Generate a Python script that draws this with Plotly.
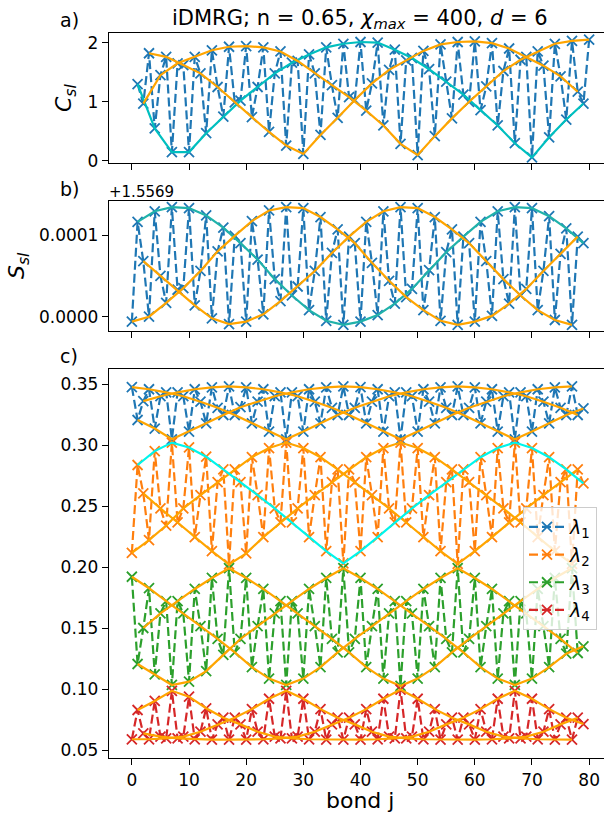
import plotly.graph_objects as go

# ---------------- data ----------------
# (a) C_sl on bonds 1..80, split by bond index mod 3
CSL_MOD1 = [1.30, 0.55, 0.15, 0.15, 0.47, 0.75, 1.02, 1.25, 1.48, 1.66, 1.80, 1.92, 1.98, 2.01,
            2.00, 1.88, 1.74, 1.55, 1.34, 1.12, 0.86, 0.60, 0.30, 0.06, 0.40, 0.70, 0.97]   # bonds 1,4,...,79
CSL_MOD2 = [0.97, 1.45, 1.65, 1.76, 1.87, 1.93, 1.94, 1.92, 1.85, 1.69, 1.48, 1.28, 1.08, 0.85,
            0.60, 0.29, 0.10, 0.42, 0.72, 1.00, 1.26, 1.52, 1.71, 1.85, 1.98, 2.03, 2.05]   # bonds 2,5,...,80
CSL_MOD0 = [1.82, 1.76, 1.62, 1.48, 1.25, 0.99, 0.74, 0.49, 0.26, 0.12, 0.44, 0.73, 1.03,
            1.31, 1.54, 1.70, 1.86, 1.97, 2.01, 2.02, 1.99, 1.90, 1.76, 1.61, 1.43, 1.17]   # bonds 3,6,...,78

# (b) S_sl - 1.5569 in units of 1e-4, bonds 0..79
SSL_OFFSET = "+1.5569"
SSL_MOD0 = [-0.06, 0.00, 0.17, 0.35, 0.56, 0.80, 0.99, 1.17, 1.30, 1.34, 1.33, 1.22, 1.07, 0.90,
            0.66, 0.44, 0.24, 0.08, -0.05, -0.10, -0.06, 0.01, 0.16, 0.34, 0.56, 0.77, 0.98]
SSL_MOD1 = [1.16, 1.29, 1.34, 1.33, 1.24, 1.09, 0.90, 0.70, 0.46, 0.26, 0.08, -0.05, -0.10, -0.06,
            0.02, 0.16, 0.34, 0.57, 0.79, 0.98, 1.16, 1.29, 1.34, 1.33, 1.23, 1.08, 0.90]
SSL_MOD2 = [0.68, 0.50, 0.33, 0.14, -0.02, -0.09, -0.06, 0.03, 0.19, 0.37, 0.56, 0.78, 0.98,
            1.16, 1.29, 1.34, 1.33, 1.22, 1.07, 0.90, 0.68, 0.46, 0.26, 0.08, -0.04, -0.10]

# (c) entanglement spectrum lambda_1..lambda_4, bonds 0..79
LAM1_MOD0 = [0.3475, 0.3457, 0.3432, 0.3400, 0.3355, 0.3305, 0.3246, 0.3178, 0.3110, 0.3047,
             0.3110, 0.3178, 0.3246, 0.3305, 0.3355, 0.3400, 0.3432, 0.3457, 0.3472, 0.3480,
             0.3472, 0.3457, 0.3432, 0.3400, 0.3355, 0.3305, 0.3246]
LAM1_MOD1 = [0.3205, 0.3135, 0.3047, 0.3110, 0.3178, 0.3246, 0.3310, 0.3355, 0.3400, 0.3432,
             0.3457, 0.3472, 0.3480, 0.3474, 0.3457, 0.3432, 0.3400, 0.3355, 0.3305, 0.3246,
             0.3178, 0.3110, 0.3047, 0.3110, 0.3178, 0.3246, 0.3300]
LAM1_MOD2 = [0.3360, 0.3400, 0.3432, 0.3457, 0.3472, 0.3480, 0.3472, 0.3457, 0.3432, 0.3400,
             0.3355, 0.3305, 0.3246, 0.3178, 0.3110, 0.3047, 0.3110, 0.3178, 0.3246, 0.3305,
             0.3355, 0.3400, 0.3432, 0.3457, 0.3472, 0.3480]

LAM2_MOD0 = [0.2115, 0.2220, 0.2340, 0.2480, 0.2590, 0.2695, 0.2800, 0.2900, 0.2975, 0.3020,
             0.2975, 0.2900, 0.2800, 0.2695, 0.2590, 0.2480, 0.2365, 0.2245, 0.2130, 0.2025,
             0.2130, 0.2245, 0.2365, 0.2480, 0.2590, 0.2695, 0.2800]
LAM2_MOD1 = [0.2836, 0.2950, 0.3020, 0.2980, 0.2904, 0.2800, 0.2695, 0.2590, 0.2480, 0.2365,
             0.2245, 0.2130, 0.2030, 0.2130, 0.2245, 0.2365, 0.2480, 0.2590, 0.2695, 0.2800,
             0.2900, 0.2975, 0.3020, 0.2975, 0.2900, 0.2800, 0.2685]
LAM2_MOD2 = [0.2604, 0.2480, 0.2365, 0.2245, 0.2130, 0.2022, 0.2112, 0.2245, 0.2365, 0.2480,
             0.2590, 0.2695, 0.2800, 0.2900, 0.2975, 0.3020, 0.2975, 0.2900, 0.2800, 0.2695,
             0.2590, 0.2480, 0.2365, 0.2245, 0.2130, 0.2025]

LAM3_MOD0 = [0.1920, 0.1826, 0.1720, 0.1620, 0.1515, 0.1410, 0.1300, 0.1180, 0.1085, 0.1033,
             0.1085, 0.1180, 0.1300, 0.1410, 0.1515, 0.1620, 0.1720, 0.1820, 0.1910, 0.1990,
             0.1910, 0.1820, 0.1720, 0.1620, 0.1515, 0.1410, 0.1295]
LAM3_MOD1 = [0.1205, 0.1120, 0.1033, 0.1060, 0.1147, 0.1280, 0.1410, 0.1515, 0.1620, 0.1720,
             0.1820, 0.1910, 0.1990, 0.1910, 0.1820, 0.1720, 0.1620, 0.1515, 0.1410, 0.1300,
             0.1180, 0.1085, 0.1033, 0.1085, 0.1180, 0.1290, 0.1350]
LAM3_MOD2 = [0.1500, 0.1620, 0.1720, 0.1820, 0.1910, 0.1990, 0.1910, 0.1820, 0.1720, 0.1620,
             0.1515, 0.1410, 0.1300, 0.1180, 0.1085, 0.1025, 0.1085, 0.1180, 0.1300, 0.1410,
             0.1515, 0.1620, 0.1720, 0.1820, 0.1910, 0.1990]

LAM4_MOD0 = [0.0588, 0.0588, 0.0595, 0.0610, 0.0650, 0.0710, 0.0765, 0.0835, 0.0920, 0.0985,
             0.0920, 0.0835, 0.0765, 0.0710, 0.0650, 0.0610, 0.0595, 0.0588, 0.0585, 0.0585,
             0.0585, 0.0588, 0.0595, 0.0610, 0.0650, 0.0710, 0.0765]
LAM4_MOD1 = [0.0828, 0.0902, 0.0985, 0.0937, 0.0842, 0.0765, 0.0710, 0.0650, 0.0610, 0.0595,
             0.0588, 0.0585, 0.0585, 0.0585, 0.0588, 0.0595, 0.0610, 0.0650, 0.0710, 0.0765,
             0.0835, 0.0920, 0.0985, 0.0920, 0.0835, 0.0765, 0.0713]
LAM4_MOD2 = [0.0636, 0.0610, 0.0595, 0.0588, 0.0585, 0.0585, 0.0585, 0.0588, 0.0595, 0.0610,
             0.0650, 0.0710, 0.0765, 0.0835, 0.0920, 0.0995, 0.0920, 0.0835, 0.0765, 0.0710,
             0.0650, 0.0610, 0.0595, 0.0588, 0.0585, 0.0585]

C_TICKS = [0, 1, 2]
S_TICKS = [0, 1]
S_TICKTEXT = ["0.0000", "0.0001"]
LAM_TICKS = [0.05, 0.10, 0.15, 0.20, 0.25, 0.30, 0.35]
BOND_TICKS = [0, 10, 20, 30, 40, 50, 60, 70, 80]

# ---------------- helpers ----------------
def bonds(first, last, r):
    return [j for j in range(first, last + 1) if j % 3 == r]


def merge(first, last, parts):
    xs, ys = [], []
    starts = {r: bonds(first, last, r)[0] for r in parts}
    for j in range(first, last + 1):
        r = j % 3
        xs.append(j)
        ys.append(parts[r][(j - starts[r]) // 3])
    return xs, ys


W, H = 604, 815
FONT = "DejaVu Sans"
ORANGE = "#FFA500"
DASH = "9px,4px"
TAB = {1: "#1f77b4", 2: "#ff7f0e", 3: "#2ca02c", 4: "#d62728"}

fig = go.Figure()


def dashed(xs, ys, color, xa, ya, name=None, legend=False):
    fig.add_trace(go.Scatter(
        x=xs, y=ys, mode="lines+markers", xaxis=xa, yaxis=ya,
        line=dict(color=color, width=2.2, dash=DASH),
        marker=dict(symbol="x-thin", size=10, line=dict(width=1.8, color=color)),
        name=name, showlegend=legend))


def envelope(xs, ys, color, xa, ya):
    fig.add_trace(go.Scatter(
        x=xs, y=ys, mode="lines", xaxis=xa, yaxis=ya,
        line=dict(color=color, width=2.2), showlegend=False, hoverinfo="skip"))


# (a)
xa, ya = merge(1, 80, {1: CSL_MOD1, 2: CSL_MOD2, 0: CSL_MOD0})
dashed(xa, ya, TAB[1], "x", "y")
envelope(bonds(1, 80, 1), CSL_MOD1, "#00BFBF", "x", "y")
envelope(bonds(1, 80, 2), CSL_MOD2, ORANGE, "x", "y")
envelope(bonds(1, 80, 0), CSL_MOD0, ORANGE, "x", "y")

# (b)
xb, yb = merge(0, 79, {0: SSL_MOD0, 1: SSL_MOD1, 2: SSL_MOD2})
dashed(xb, yb, TAB[1], "x2", "y2")
envelope(bonds(0, 79, 1), SSL_MOD1, "#20B2AA", "x2", "y2")
envelope(bonds(0, 79, 0), SSL_MOD0, ORANGE, "x2", "y2")
envelope(bonds(0, 79, 2), SSL_MOD2, ORANGE, "x2", "y2")

# (c)
LAMS = {
    1: (LAM1_MOD0, LAM1_MOD1, LAM1_MOD2),
    2: (LAM2_MOD0, LAM2_MOD1, LAM2_MOD2),
    3: (LAM3_MOD0, LAM3_MOD1, LAM3_MOD2),
    4: (LAM4_MOD0, LAM4_MOD1, LAM4_MOD2),
}
for k, (m0, m1, m2) in LAMS.items():
    xs, ys = merge(0, 79, {0: m0, 1: m1, 2: m2})
    dashed(xs, ys, TAB[k], "x3", "y3", name=f"<i>λ</i><sub>{k}</sub>", legend=True)
    envelope(bonds(0, 79, 0), m0, ORANGE, "x3", "y3")
    envelope(bonds(0, 79, 1), m1, "#00F5EC" if k == 2 else ORANGE, "x3", "y3")
    envelope(bonds(0, 79, 2), m2, ORANGE, "x3", "y3")


def py(px):
    return 1 - px / H


X_DOM = [109 / W, 1.0]
X_RANGE = [-4.0, -4.0 + (W - 109) / 5.716]

axis_common = dict(showgrid=False, zeroline=False, showline=True, linecolor="black",
                   linewidth=1.3, ticks="outside", ticklen=6, tickwidth=1.3,
                   tickcolor="black", tickfont=dict(family=FONT, size=17, color="black"))

layout = dict(
    width=W, height=H, plot_bgcolor="white", paper_bgcolor="white",
    margin=dict(l=0, r=0, t=0, b=0, autoexpand=False),
    font=dict(family=FONT, color="black"),
    xaxis=dict(domain=X_DOM, range=X_RANGE, anchor="y", tickvals=BOND_TICKS,
               showticklabels=False, mirror=True, **axis_common),
    xaxis2=dict(domain=X_DOM, range=X_RANGE, anchor="y2", tickvals=BOND_TICKS,
                showticklabels=False, mirror=True, **axis_common),
    xaxis3=dict(domain=X_DOM, range=X_RANGE, anchor="y3", tickvals=BOND_TICKS,
                mirror=True, **axis_common),
    yaxis=dict(domain=[py(163.3), py(33.3)], range=[-0.039, 2.157], anchor="x",
               tickvals=C_TICKS, **axis_common),
    yaxis2=dict(domain=[py(330.7), py(201)], range=[-0.171, 1.416], anchor="x2",
                tickvals=S_TICKS, ticktext=S_TICKTEXT, **axis_common),
    yaxis3=dict(domain=[py(758.3), py(369)], range=[0.0432, 0.3623], anchor="x3",
                tickvals=LAM_TICKS, tickformat=".2f", **axis_common),
    legend=dict(x=523 / W, y=py(507), xanchor="left", yanchor="top",
                bgcolor="rgba(255,255,255,0.8)", bordercolor="#cccccc", borderwidth=1,
                font=dict(family=FONT, size=19, color="black"), tracegroupgap=0,
                itemwidth=36),
)
fig.update_layout(**layout)

ann = [
    dict(text="iDMRG; n = 0.65, <i>χ</i><sub><i>max</i></sub> = 400, <i>d</i> = 6",
         x=360 / W, y=py(19), size=21),
    dict(text="a)", x=69 / W, y=py(20), size=19),
    dict(text="b)", x=69 / W, y=py(189), size=19),
    dict(text="c)", x=69 / W, y=py(356), size=19),
    dict(text=SSL_OFFSET, x=141 / W, y=py(192), size=15),
    dict(text="bond j", x=360 / W, y=py(800), size=22),
]
for a in ann:
    fig.add_annotation(text=a["text"], x=a["x"], y=a["y"], xref="paper", yref="paper",
                       xanchor="center", yanchor="middle", showarrow=False,
                       font=dict(family=FONT, size=a["size"], color="black"))

for text, x, y in [("<i>C</i><sub><i>sl</i></sub>", 66, 98), ("<i>S</i><sub><i>sl</i></sub>", 18, 266)]:
    fig.add_annotation(text=text, x=x / W, y=py(y), xref="paper", yref="paper",
                       xanchor="center", yanchor="middle", showarrow=False, textangle=-90,
                       font=dict(family=FONT, size=22, color="black"))

fig.write_html("out.html")
